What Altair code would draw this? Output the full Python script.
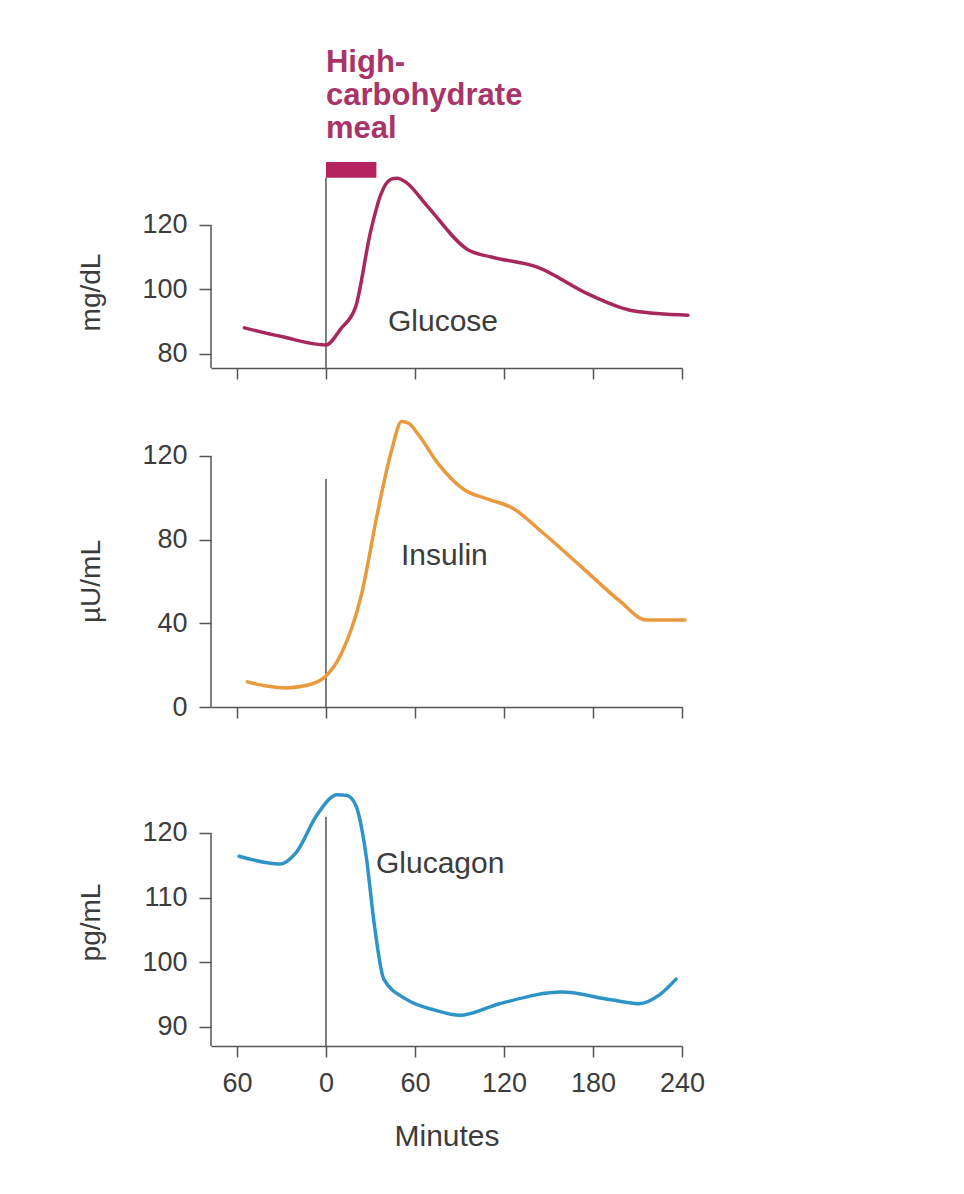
import altair as alt
import pandas as pd

# ---------------- data ----------------
minute_ticks = [-60, 0, 60, 120, 180, 240]

glucose_t = [-55, -30, 0, 10, 20, 30, 37, 44, 48, 54, 68, 96, 112, 142, 178, 208, 244]
glucose_v = [88.1, 85.4, 82.8, 87.8, 94.6, 117.8, 129.5, 134.2, 134.5, 133.2, 126.0, 112.2, 110.0, 107.0, 98.3, 93.3, 92.0]

insulin_t = [-53, -40, -27, -12, 0, 10, 24, 35, 44, 51, 56, 62, 76, 93, 109, 126, 145, 173, 198, 216, 242]
insulin_v = [12.0, 10.0, 9.1, 10.5, 14.8, 25.0, 54.0, 93.7, 122.0, 136.5, 135.5, 130.5, 116.0, 104.0, 99.4, 95.0, 84.0, 66.5, 50.7, 41.6, 41.6]

glucagon_t = [-58.6, -31, -20, -6, 7.6, 14, 20, 27, 32.5, 39, 54, 73.5, 90, 117, 159, 192, 211, 225, 236]
glucagon_v = [116.4, 115.2, 117.0, 122.8, 125.9, 125.8, 124.3, 116.6, 106.0, 97.4, 94.3, 92.6, 91.8, 93.6, 95.4, 94.2, 93.6, 95.0, 97.4]

meal_start, meal_end = 0, 34
meal_lines = ["High-", "carbohydrate", "meal"]

# ---------------- styling ----------------
FONT = "Liberation Sans"
AX = "#555555"
TXT = "#3c3c3c"
GLU_C = "#a8285e"
MEAL_C = "#b5245e"
MEAL_TXT = "#a8346a"
INS_C = "#e89a3c"
GCG_C = "#2e94c8"

X_DOMAIN = [-77.5, 240]
W = 471


def x_enc(show_labels):
    if show_labels:
        ax = alt.Axis(
            values=minute_ticks, tickSize=11, grid=False, domain=True,
            labels=True, labelExpr="'' + abs(datum.value)", labelFlush=False,
            labelOverlap=False, labelPadding=13, labelFontSize=27,
            title="Minutes", titlePadding=25, titleFontSize=30, titleFontWeight="normal",
        )
    else:
        ax = alt.Axis(values=minute_ticks, tickSize=11, grid=False, domain=True,
                      labels=False, title=None)
    return alt.X("t:Q", scale=alt.Scale(domain=X_DOMAIN, nice=False, zero=False), axis=ax)


def panel(t, v, color, ydomain, height, yticks, ytitle, title_y, label, label_pos,
          vline_top, extra_layers=()):
    ys = alt.Scale(domain=ydomain, nice=False, zero=False)
    yaxis = alt.Axis(
        values=yticks, tickSize=12, grid=False, domain=False,
        labelPadding=12, labelFontSize=27,
        title=ytitle, titleFontSize=28, titleFontWeight="normal",
        titleX=-120, titleY=title_y, titleBaseline="middle",
    )
    df = pd.DataFrame({"t": t, "v": v})
    line = alt.Chart(df).mark_line(
        color=color, strokeWidth=3.5, interpolate="monotone", clip=False,
        strokeCap="round", strokeJoin="round",
    ).encode(x=x_enc(label == "Glucagon"), y=alt.Y("v:Q", scale=ys, axis=yaxis))

    yline = alt.Chart(pd.DataFrame({"t": [X_DOMAIN[0]], "v": [ydomain[0]], "v2": [max(yticks)]})).mark_rule(
        color=AX, strokeWidth=1.5
    ).encode(x="t:Q", y="v:Q", y2="v2:Q")

    vline = alt.Chart(pd.DataFrame({"t": [0], "v": [ydomain[0]], "v2": [vline_top]})).mark_rule(
        color=AX, strokeWidth=1.5
    ).encode(x="t:Q", y="v:Q", y2="v2:Q")

    lab = alt.Chart(pd.DataFrame({"t": [label_pos[0]], "v": [label_pos[1]], "s": [label]})).mark_text(
        align="left", baseline="middle", font=FONT, fontSize=30, color=TXT
    ).encode(x="t:Q", y="v:Q", text="s:N")

    return alt.layer(vline, yline, *extra_layers, line, lab).properties(width=W, height=height)


# glucose panel extras: meal bar and text
g_dom = [75.66, 176.7]
meal_bar = alt.Chart(pd.DataFrame({"t": [meal_start], "t2": [meal_end], "v": [134.6], "v2": [139.5]})).mark_rect(
    color=MEAL_C
).encode(x="t:Q", x2="t2:Q", y="v:Q", y2="v2:Q")
meal_text = alt.Chart(pd.DataFrame({"t": [0, 0, 0], "v": [167.5, 157.2, 147.0], "s": meal_lines})).mark_text(
    align="left", baseline="alphabetic", font=FONT, fontSize=31, fontWeight="bold", color=MEAL_TXT
).encode(x="t:Q", y="v:Q", text="s:N")

p1 = panel(glucose_t, glucose_v, GLU_C, g_dom, 326, [80, 100, 120], "mg/dL", 250,
           "Glucose", (41.8, 89.9), 134.6, extra_layers=(meal_bar, meal_text))
p2 = panel(insulin_t, insulin_v, INS_C, [0, 141.5], 296, [0, 40, 80, 120], "µU/mL", 170,
           "Insulin", (50.6, 72.2), 109)
p3 = panel(glucagon_t, glucagon_v, GCG_C, [87.06, 132.66], 295, [90, 100, 110, 120], "pg/mL", 171,
           "Glucagon", (33.7, 115.2), 122.5)

chart = alt.vconcat(p1, p2, p3, spacing=31).properties(
    padding={"left": 69, "top": 34, "right": 10, "bottom": 10},
    background="white",
).configure_view(strokeWidth=0, stroke="transparent").configure_axis(
    labelFont=FONT, titleFont=FONT, labelColor=TXT, titleColor=TXT,
    domainColor=AX, tickColor=AX, domainWidth=1.5, tickWidth=1.5,
)

chart.save("out.html", embed_options={"renderer": "svg", "actions": False})
